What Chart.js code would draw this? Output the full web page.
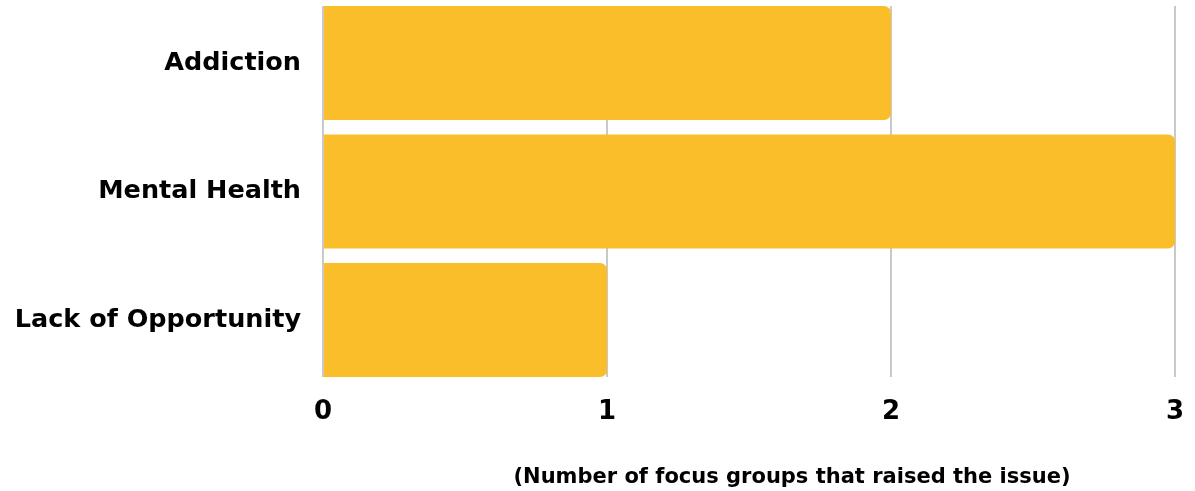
<!DOCTYPE html>
<html>
<head>
<meta charset="utf-8">
<script src="https://cdn.jsdelivr.net/npm/chart.js@4/dist/chart.umd.min.js"></script>
<style>
  body { margin: 0; background: #fff; }
  #wrap { position: relative; width: 1195px; height: 491px; }
  #caption {
    position: absolute; left: 792px; top: 464px; transform: translateX(-50%);
    font: 700 21px "DejaVu Sans", sans-serif; color: #000; white-space: nowrap;
  }
</style>
</head>
<body>
<div id="wrap">
  <canvas id="chart" width="1195" height="491"></canvas>
  <div id="caption">(Number of focus groups that raised the issue)</div>
</div>
<script>
let categories = ['Addiction', 'Mental Health', 'Lack of Opportunity']
let counts = [2, 3, 1]
let xTicks = [0, 1, 2, 3]

let ctx = document.getElementById('chart').getContext('2d')
let chart = new Chart(ctx, {
    type: 'bar',
    data: {
        datasets: [{
            data: counts.map((v, i) => ({ x: v, y: i })),
            backgroundColor: '#FBBE2B',
            borderRadius: { topRight: 7, bottomRight: 7, topLeft: 0, bottomLeft: 0 },
            borderSkipped: false,
            categoryPercentage: 1,
            barPercentage: 0.887
        }]
    },
    options: {
        indexAxis: 'y',
        responsive: false,
        animation: false,
        layout: { padding: { top: 6, right: 20, bottom: 0, left: 0 } },
        plugins: { legend: { display: false }, tooltip: { enabled: false } },
        scales: {
            x: {
                min: 0,
                max: 3,
                afterBuildTicks: s => { s.ticks = xTicks.map(v => ({ value: v })) },
                afterFit: s => { s.height = 114; s.paddingLeft = 0; s.paddingRight = 0 },
                grid: { color: '#c9c9c9', lineWidth: 2, drawTicks: false },
                border: { display: false },
                ticks: { padding: 20, color: '#000', font: { family: 'DejaVu Sans', size: 26, weight: 'bold' } }
            },
            y: {
                type: 'linear',
                reverse: true,
                offset: false,
                min: -0.4436,
                max: 2.4436,
                afterBuildTicks: s => { s.ticks = categories.map((c, i) => ({ value: i })) },
                afterFit: s => { s.width = 323; s.paddingTop = 0; s.paddingBottom = 0 },
                grid: { display: false },
                border: { display: false },
                ticks: {
                    padding: 14,
                    color: '#000',
                    font: { family: 'DejaVu Sans', size: 25.5, weight: 'bold' },
                    callback: v => categories[v]
                }
            }
        }
    }
})
</script>
</body>
</html>
